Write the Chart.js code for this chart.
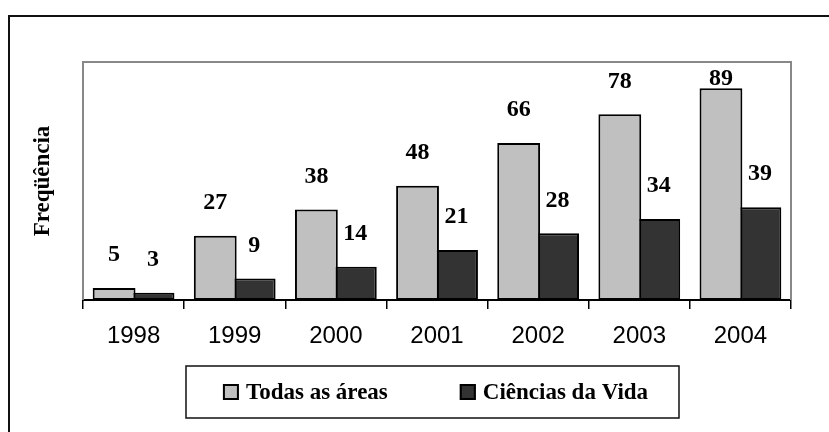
<!DOCTYPE html>
<html>
<head>
<meta charset="utf-8">
<script src="https://cdn.jsdelivr.net/npm/chart.js@4/dist/chart.umd.min.js"></script>
<style>
  html, body { margin: 0; padding: 0; background: #fff; overflow: hidden; }
  #wrap { position: relative; width: 829px; height: 432px; }
  #frame {
    position: absolute; left: 8px; top: 15px; width: 900px; height: 500px;
    border-left: 2px solid #111; border-top: 2px solid #111;
  }
  #chart { position: absolute; left: 0; top: 0; }
</style>
</head>
<body>
<div id="wrap">
  <div id="frame"></div>
  <canvas id="chart" width="829" height="432"></canvas>
</div>
<script>
const years = ['1998', '1999', '2000', '2001', '2002', '2003', '2004'];
const todasAreas = [5, 27, 38, 48, 66, 78, 89];
const cienciasVida = [3, 9, 14, 21, 28, 34, 39];
const seriesNames = ['Todas as áreas', 'Ciências da Vida'];

const serif = "'Liberation Serif', 'Times New Roman', serif";
const sans = "'Liberation Sans', Arial, sans-serif";

// plot frame: grey on top, left and right (bottom is the black axis)
const plotFrame = {
  id: 'plotFrame',
  beforeDatasetsDraw(chart) {
    const { ctx, chartArea: a } = chart;
    ctx.save();
    ctx.strokeStyle = '#888';
    ctx.lineWidth = 2;
    ctx.beginPath();
    ctx.moveTo(a.left, a.bottom);
    ctx.lineTo(a.left, a.top);
    ctx.lineTo(a.right, a.top);
    ctx.lineTo(a.right, a.bottom);
    ctx.stroke();
    ctx.restore();
  }
};

// value labels floating above each bar
const valueLabels = {
  id: 'valueLabels',
  afterDatasetsDraw(chart) {
    const { ctx, chartArea } = chart;
    ctx.save();
    ctx.font = 'bold 24px ' + serif;
    ctx.fillStyle = '#000';
    ctx.textAlign = 'center';
    ctx.textBaseline = 'middle';
    chart.data.datasets.forEach((ds, i) => {
      chart.getDatasetMeta(i).data.forEach((bar, j) => {
        const y = Math.max(bar.y - 33, chartArea.top + 17);
        ctx.fillText(ds.data[j], bar.x, y);
      });
    });
    ctx.restore();
  }
};

// boxed legend under the axis
const boxLegend = {
  id: 'boxLegend',
  afterDraw(chart) {
    const { ctx } = chart;
    const box = { left: 186, top: 366, right: 679, bottom: 418 };
    const sq = 16, textGap = 7, itemGap = 72;
    ctx.save();
    ctx.strokeStyle = '#111';
    ctx.lineWidth = 1.5;
    ctx.strokeRect(box.left, box.top, box.right - box.left, box.bottom - box.top);
    ctx.font = 'bold 23px ' + serif;
    const widths = chart.data.datasets.map(ds => sq + textGap + ctx.measureText(ds.label).width);
    const total = widths.reduce((s, w) => s + w, 0) + itemGap * (widths.length - 1);
    let x = (box.left + box.right) / 2 - total / 2 + 3;
    const cy = (box.top + box.bottom) / 2;
    chart.data.datasets.forEach((ds, i) => {
      ctx.fillStyle = ds.backgroundColor;
      ctx.fillRect(x, cy - sq / 2, sq, sq);
      ctx.strokeStyle = '#000';
      ctx.lineWidth = 2;
      ctx.strokeRect(x + 1, cy - sq / 2 + 1, sq - 2, sq - 2);
      ctx.fillStyle = '#000';
      ctx.textAlign = 'left';
      ctx.textBaseline = 'middle';
      ctx.fillText(ds.label, x + sq + textGap, cy + 1);
      x += widths[i] + itemGap;
    });
    ctx.restore();
  }
};

new Chart(document.getElementById('chart'), {
  type: 'bar',
  data: {
    labels: years,
    datasets: [
      {
        label: seriesNames[0],
        data: todasAreas,
        backgroundColor: '#c0c0c0',
        borderColor: '#000',
        borderWidth: 2,
        borderSkipped: false,
        categoryPercentage: 0.77,
        barPercentage: 1.1
      },
      {
        label: seriesNames[1],
        data: cienciasVida,
        backgroundColor: '#333333',
        borderColor: '#000',
        borderWidth: 2,
        borderSkipped: false,
        categoryPercentage: 0.77,
        barPercentage: 1.1
      }
    ]
  },
  options: {
    responsive: false,
    animation: false,
    devicePixelRatio: 1,
    layout: { padding: { left: 20, right: 38, top: 62, bottom: 82 } },
    plugins: {
      legend: { display: false },
      tooltip: { enabled: false }
    },
    scales: {
      x: {
        offset: true,
        grid: {
          display: true,
          drawOnChartArea: false,
          drawTicks: true,
          tickLength: 9,
          color: '#000',
          lineWidth: 1.5
        },
        border: { display: true, color: '#000', width: 2 },
        ticks: { color: '#000', font: { family: sans, size: 24 }, padding: 13 },
        afterFit(scale) { scale.height = 50; }
      },
      y: {
        min: 0,
        max: 100,
        ticks: { display: false },
        grid: { display: false },
        border: { display: false },
        title: {
          display: true,
          text: 'Freqüência',
          color: '#000',
          font: { family: serif, size: 23, weight: 'bold' },
          padding: { top: 9, bottom: 0 }
        },
        afterFit(scale) { scale.width = 63; }
      }
    }
  },
  plugins: [plotFrame, valueLabels, boxLegend]
});
</script>
</body>
</html>
